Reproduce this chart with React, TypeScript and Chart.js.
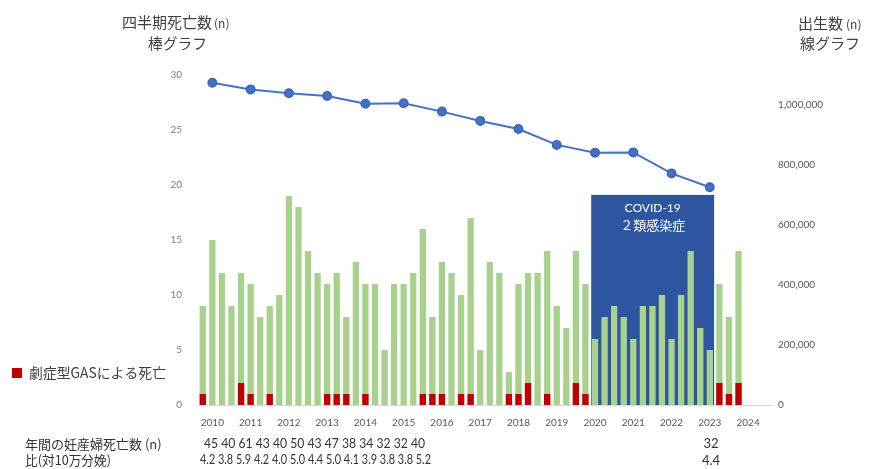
import React, { useEffect, useRef } from "react";
import { Chart, registerables } from "chart.js";

Chart.register(...registerables);

const years = [2010, 2011, 2012, 2013, 2014, 2015, 2016, 2017, 2018, 2019, 2020, 2021, 2022, 2023, 2024];
const quarters = ["Q1", "Q2", "Q3", "Q4"];

// quarterly maternal deaths (2010Q1 .. 2024Q1)
const quarterlyDeaths = [
  9, 15, 12, 9,
  12, 11, 8, 9,
  10, 19, 18, 14,
  12, 11, 12, 8,
  13, 11, 11, 5,
  11, 11, 12, 16,
  8, 13, 12, 10,
  17, 5, 13, 12,
  3, 11, 12, 12,
  14, 9, 7, 14,
  11, 6, 8, 9,
  8, 6, 9, 9,
  10, 6, 10, 14,
  7, 5, 11, 8,
  14,
];

// deaths due to severe invasive GAS
const gasDeaths = [
  1, 0, 0, 0,
  2, 1, 0, 1,
  0, 0, 0, 0,
  0, 1, 1, 1,
  0, 1, 0, 0,
  0, 0, 0, 1,
  1, 1, 0, 1,
  1, 0, 0, 0,
  1, 1, 2, 0,
  1, 0, 0, 2,
  1, 0, 0, 0,
  0, 0, 0, 0,
  0, 0, 0, 0,
  0, 0, 2, 1,
  2,
];

// annual births 2010..2023
const births = [
  1074000, 1052000, 1039000, 1030000, 1004000, 1006000, 978000,
  947000, 920000, 867000, 841000, 842000, 772000, 726000,
];

const leftTicks = [0, 5, 10, 15, 20, 25, 30];
const rightTicks = [0, 200000, 400000, 600000, 800000, 1000000];

const maternalDeathsAnnual = [45, 40, 61, 43, 40, 50, 43, 47, 38, 34, 32, 32, 40];
const maternalRatioAnnual = ["4.2", "3.8", "5.9", "4.2", "4.0", "5.0", "4.4", "5.0", "4.1", "3.9", "3.8", "3.8", "5.2"];
const maternalDeaths2023 = "32";
const maternalRatio2023 = "4.4";

// COVID-19 category-2 period, in quarter index units
const covidStartQ = 40.6;
const covidEndQ = 53.45;
const covidTopValue = 19.1;

const CJK = '"Noto Sans CJK JP", "Noto Sans", sans-serif';
const NUM = 'Lato, "Noto Sans", sans-serif';

const fmt = (v: number) => String(Math.round(v)).replace(/\B(?=(\d{3})+(?!\d))/g, ",");

export default function App() {
  const ref = useRef<HTMLCanvasElement>(null);

  useEffect(() => {
    if (!ref.current) return;
    const labels = years.flatMap((y) => quarters.map((q) => `${y} ${q}`));
    const totalData = labels.map((_, i) => (i < quarterlyDeaths.length ? quarterlyDeaths[i] : null));
    const gasData = labels.map((_, i) => (i < gasDeaths.length ? gasDeaths[i] : null));
    const birthData = labels.map((_, i) => (i % 4 === 1 && births[(i - 1) / 4] !== undefined ? births[(i - 1) / 4] : null));

    const overlay = {
      id: "overlay",
      beforeDatasetsDraw(chart: any) {
        const { ctx, chartArea, scales } = chart;
        const x = scales.x;
        const y = scales.y;
        const step = x.getPixelForValue(1) - x.getPixelForValue(0);
        const px = (q: number) => x.getPixelForValue(Math.floor(q)) + (q - Math.floor(q)) * step;
        const l = px(covidStartQ);
        const r = px(covidEndQ);
        const t = y.getPixelForValue(covidTopValue);
        ctx.save();
        ctx.fillStyle = "#2e55a0";
        ctx.fillRect(l, t, r - l, chartArea.bottom - t);
        ctx.restore();
      },
      afterDraw(chart: any) {
        const { ctx, scales } = chart;
        const x = scales.x;
        const y = scales.y;
        const step = x.getPixelForValue(1) - x.getPixelForValue(0);
        const px = (q: number) => x.getPixelForValue(Math.floor(q)) + (q - Math.floor(q)) * step;
        const cx = (px(covidStartQ) + px(covidEndQ)) / 2;
        const t = y.getPixelForValue(covidTopValue);
        ctx.save();
        ctx.textBaseline = "middle";
        ctx.textAlign = "center";
        ctx.fillStyle = "#ffffff";
        ctx.font = `12px ${NUM}`;
        ctx.fillText("COVID-19", cx, t + 13, 57);
        ctx.font = `13px ${CJK}`;
        ctx.fillText("２類感染症", cx, t + 30, 69);

        // titles
        ctx.fillStyle = "#404040";
        ctx.textAlign = "left";
        ctx.font = `15px ${CJK}`;
        ctx.fillText("四半期死亡数", 122, 22, 90);
        ctx.font = `12px ${CJK}`;
        ctx.fillText("(n)", 214, 23, 18);
        ctx.font = `15px ${CJK}`;
        ctx.fillText("棒グラフ", 148, 43, 59);

        ctx.font = `15px ${CJK}`;
        ctx.fillText("出生数", 798, 23, 45);
        ctx.font = `12px ${CJK}`;
        ctx.fillText("(n)", 846, 24, 20);
        ctx.font = `15px ${CJK}`;
        ctx.fillText("線グラフ", 800, 43, 61);

        // legend
        ctx.fillStyle = "#c00000";
        ctx.fillRect(12, 368, 10, 10);
        ctx.fillStyle = "#404040";
        ctx.font = `14px ${CJK}`;
        ctx.fillText("劇症型GASによる死亡", 29, 373, 137);

        // bottom rows
        ctx.fillStyle = "#333333";
        ctx.font = `13px ${CJK}`;
        ctx.fillText("年間の妊産婦死亡数 (n)", 25, 444, 143);
        ctx.fillText("比(対10万分娩)", 25, 460, 86);
        ctx.font = `13px ${NUM}`;
        ctx.fillText(maternalDeathsAnnual.join(" "), 204, 444, 221);
        ctx.fillText(maternalRatioAnnual.join(" "), 200, 460, 231);
        ctx.textAlign = "center";
        ctx.fillText(maternalDeaths2023, 711, 444);
        ctx.fillText(maternalRatio2023, 711, 461);
        ctx.restore();
      },
    };

    const chart = new Chart(ref.current, {
      type: "bar",
      data: {
        labels,
        datasets: [
          {
            type: "line",
            label: "出生数",
            data: birthData,
            yAxisID: "y1",
            borderColor: "#4472c4",
            backgroundColor: "#4472c4",
            borderWidth: 2,
            pointRadius: 4,
            pointBackgroundColor: "#4472c4",
            pointBorderColor: "#3f69b5",
            spanGaps: true,
            order: 0,
          } as any,
          {
            label: "劇症型GASによる死亡",
            data: gasData,
            yAxisID: "y",
            backgroundColor: "#c00000",
            grouped: false,
            categoryPercentage: 1,
            barPercentage: 0.66,
            order: 1,
          },
          {
            label: "四半期死亡数",
            data: totalData,
            yAxisID: "y",
            backgroundColor: "#a9d18e",
            grouped: false,
            categoryPercentage: 1,
            barPercentage: 0.66,
            order: 2,
          },
        ],
      },
      options: {
        responsive: false,
        animation: false,
        layout: { padding: { top: 75, left: 0, right: 0, bottom: 0 } },
        plugins: { legend: { display: false }, tooltip: { enabled: false } },
        scales: {
          x: {
            type: "category",
            grid: { display: false },
            border: { display: true, color: "#d9d9d9" },
            ticks: {
              autoSkip: false,
              maxRotation: 0,
              minRotation: 0,
              padding: 4,
              color: "#595959",
              font: { family: NUM, size: 10 },
              callback: (_v: any, i: number) => (i % 4 === 1 ? String(years[(i - 1) / 4]) : ""),
            },
            afterFit: (s: any) => {
              s.height = 64;
            },
          },
          y: {
            position: "left",
            min: 0,
            max: 30,
            grid: { display: false },
            border: { display: false },
            afterBuildTicks: (s: any) => {
              s.ticks = leftTicks.map((v) => ({ value: v }));
            },
            ticks: { autoSkip: false, padding: 8, color: "#7f7f7f", font: { family: NUM, size: 10 } },
            afterFit: (s: any) => {
              s.width = 198;
            },
          },
          y1: {
            position: "right",
            min: 0,
            max: 1100000,
            grid: { display: false },
            border: { display: false },
            afterBuildTicks: (s: any) => {
              s.ticks = rightTicks.map((v) => ({ value: v }));
            },
            ticks: {
              autoSkip: false,
              padding: -2,
              color: "#595959",
              font: { family: NUM, size: 10 },
              callback: (v: any) => fmt(Number(v)),
            },
            afterFit: (s: any) => {
              s.width = 99;
            },
          },
        },
      } as any,
      plugins: [overlay],
    });
    return () => chart.destroy();
  }, []);

  return (
    <div style={{ position: "absolute", left: 0, top: 0, width: 871, height: 469, background: "#fff" }}>
      <canvas ref={ref} width={871} height={469} style={{ display: "block" }} />
    </div>
  );
}
